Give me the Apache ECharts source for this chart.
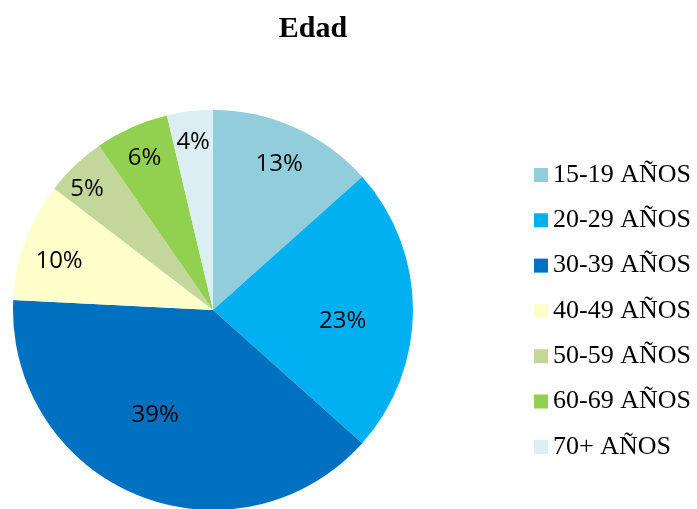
<!DOCTYPE html>
<html>
<head>
<meta charset="utf-8">
<script src="https://cdn.jsdelivr.net/npm/echarts@6/dist/echarts.min.js"></script>
<style>html,body{margin:0;padding:0;background:#fff;}#c{width:697px;height:509px;}</style>
</head>
<body>
<div id="c"></div>
<script>
var categories = ['15-19 AÑOS', '20-29 AÑOS', '30-39 AÑOS', '40-49 AÑOS', '50-59 AÑOS', '60-69 AÑOS', '70+ AÑOS'];
var values = [13.4, 23.2, 39.2, 9.6, 4.95, 5.95, 3.7];
var colors = ['#92CDDC', '#00B0F0', '#0070C0', '#FFFFCC', '#C4D79B', '#92D050', '#DAEEF3'];
var labelRadius = [0.81, 0.65, 0.59, 0.81, 0.88, 0.84, 0.855];
var labelAngleShift = [0, 4, 7, -2, -2, 0, 0];

var CX = 213, CY = 310, R = 200;
var total = values.reduce(function (a, b) { return a + b; }, 0);
var mids = [];
(function () {
  var acc = 0;
  for (var i = 0; i < values.length; i++) {
    var a0 = -Math.PI / 2 + acc / total * 2 * Math.PI;
    acc += values[i];
    var a1 = -Math.PI / 2 + acc / total * 2 * Math.PI;
    mids.push((a0 + a1) / 2 + labelAngleShift[i] * Math.PI / 180);
  }
})();

var chart = echarts.init(document.getElementById('c'), null, {renderer: 'canvas'});
chart.setOption({
  backgroundColor: '#ffffff',
  animation: false,
  title: {
    text: 'Edad',
    left: 313,
    top: 14,
    textAlign: 'center',
    padding: 0,
    textStyle: {fontFamily: 'Liberation Serif', fontWeight: 'bold', fontSize: 30, color: '#000'}
  },
  legend: {
    orient: 'vertical',
    left: 534,
    top: 162,
    itemWidth: 14,
    itemHeight: 14,
    itemGap: 19.3,
    icon: 'rect',
    padding: 0,
    data: categories,
    textStyle: {fontFamily: 'Liberation Serif', fontSize: 26, color: '#000'}
  },
  series: [{
    type: 'pie',
    center: [CX, CY],
    radius: R,
    startAngle: 90,
    clockwise: true,
    silent: true,
    itemStyle: {borderWidth: 0},
    label: {
      show: true,
      position: 'inside',
      fontFamily: 'Open Sans',
      fontSize: 24,
      color: '#000',
      formatter: function (p) { return Math.round(p.percent) + '%'; }
    },
    labelLine: {show: false},
    labelLayout: function (p) {
      var i = p.dataIndex;
      var rr = R * labelRadius[i];
      return {x: CX + rr * Math.cos(mids[i]), y: CY + 2 + rr * Math.sin(mids[i]), align: 'center', verticalAlign: 'middle'};
    },
    data: categories.map(function (c, i) {
      return {name: c, value: values[i], itemStyle: {color: colors[i]}};
    })
  }]
});
</script>
</body>
</html>
